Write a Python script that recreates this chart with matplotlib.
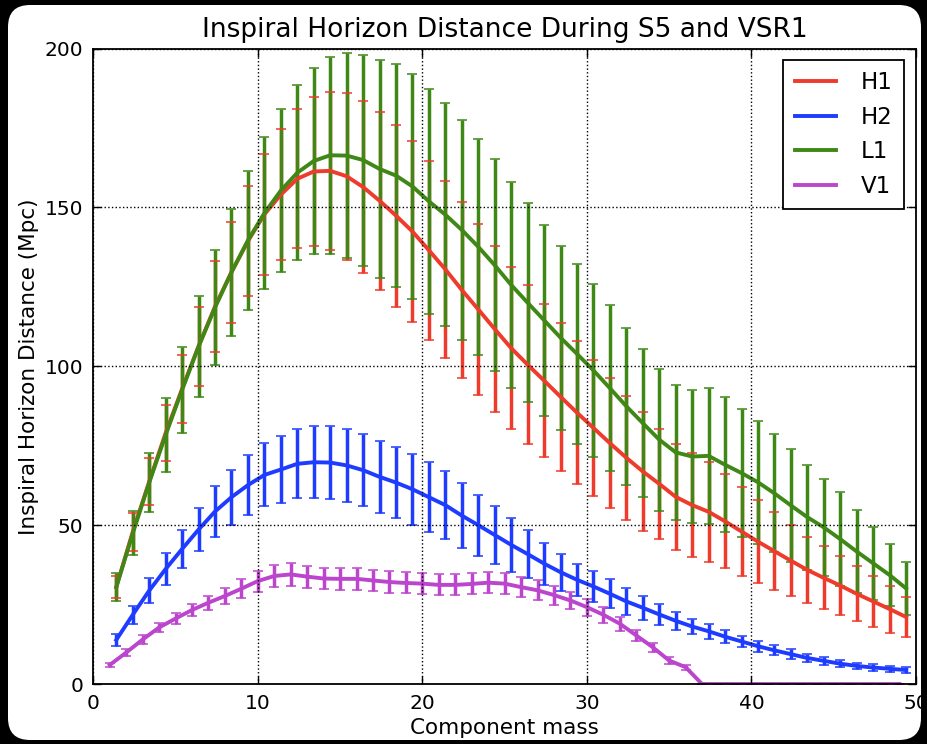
import matplotlib
matplotlib.use("Agg")
import matplotlib.pyplot as plt
from matplotlib.patches import FancyBboxPatch
from matplotlib.transforms import IdentityTransform

# component mass grid (H1, H2, L1 share it, V1 is on whole masses)
mass = [1.4, 2.4, 3.4, 4.4, 5.4, 6.4, 7.4, 8.4, 9.4, 10.4,
        11.4, 12.4, 13.4, 14.4, 15.4, 16.4, 17.4, 18.4, 19.4, 20.4,
        21.4, 22.4, 23.4, 24.4, 25.4, 26.4, 27.4, 28.4, 29.4, 30.4,
        31.4, 32.4, 33.4, 34.4, 35.4, 36.4, 37.4, 38.4, 39.4, 40.4,
        41.4, 42.4, 43.4, 44.4, 45.4, 46.4, 47.4, 48.4, 49.4]
mass_v1 = [1, 2, 3, 4, 5, 6, 7, 8, 9, 10, 11, 12, 13, 14, 15, 16, 17,
           18, 19, 20, 21, 22, 23, 24, 25, 26, 27, 28, 29, 30, 31, 32,
           33, 34, 35, 36, 37, 38, 39, 40, 41, 42, 43, 44, 45, 46, 47,
           48, 49]

h1 = [30.5, 47.9, 63.7, 79.0, 92.9, 106.3, 118.8, 129.6, 139.4, 147.8,
      154.0, 159.0, 161.3, 161.5, 159.8, 156.4, 152.1, 147.4, 142.4, 136.5,
      130.5, 124.0, 117.9, 111.7, 105.7, 100.5, 95.5, 90.4, 85.4, 80.6,
      75.8, 71.2, 66.9, 63.0, 58.9, 56.3, 54.2, 51.2, 48.0, 44.8,
      41.8, 38.8, 35.9, 33.4, 31.0, 28.4, 26.0, 23.6, 21.1]
h1_err = [3.5, 5.9, 7.5, 8.8, 10.8, 12.4, 14.3, 15.9, 17.4, 19.0,
          20.7, 21.9, 23.4, 24.8, 26.3, 27.1, 28.0, 28.6, 28.6, 28.2,
          27.9, 27.7, 26.9, 26.2, 25.4, 25.0, 24.2, 23.3, 22.5, 21.4,
          20.5, 19.6, 18.6, 17.4, 16.7, 16.4, 15.8, 14.8, 14.0, 13.0,
          12.2, 11.2, 10.3, 9.9, 9.3, 8.7, 8.0, 7.4, 6.3]

h2 = [13.9, 21.8, 29.4, 36.2, 42.5, 48.6, 54.3, 58.8, 62.6, 65.8,
      67.5, 69.3, 69.8, 69.7, 68.8, 67.3, 65.2, 63.4, 61.3, 58.8,
      56.3, 53.0, 50.0, 46.9, 43.8, 40.9, 37.9, 35.2, 32.8, 30.7,
      28.4, 26.0, 24.0, 21.9, 19.9, 18.1, 16.6, 14.9, 13.4, 11.9,
      10.6, 9.4, 8.2, 7.3, 6.4, 5.7, 5.2, 4.8, 4.4]
h2_err = [2.0, 2.8, 3.9, 5.0, 6.0, 6.8, 7.9, 8.7, 9.4, 9.9,
          10.6, 10.9, 11.3, 11.4, 11.5, 11.4, 11.4, 11.3, 11.2, 11.0,
          10.6, 10.2, 9.6, 9.0, 8.5, 7.6, 6.6, 5.8, 5.0, 4.9,
          4.5, 4.2, 3.8, 3.2, 2.8, 2.4, 2.4, 2.1, 1.8, 1.7,
          1.6, 1.5, 1.4, 1.2, 1.1, 1.0, 1.0, 0.9, 0.9]

l1 = [30.5, 47.4, 63.4, 78.4, 92.6, 106.2, 118.5, 129.6, 139.6, 148.2,
      155.3, 160.9, 164.6, 166.4, 166.3, 164.9, 162.1, 160.0, 156.6, 151.9,
      147.7, 142.9, 137.6, 131.8, 125.6, 120.0, 114.5, 109.0, 103.9, 98.7,
      93.1, 87.4, 82.1, 76.9, 72.9, 71.6, 71.8, 69.0, 66.4, 63.5,
      60.0, 56.2, 52.5, 49.3, 45.6, 41.7, 38.0, 34.3, 30.1]
l1_err = [4.5, 6.9, 9.2, 11.6, 13.6, 15.9, 18.0, 20.0, 22.0, 23.9,
          25.7, 27.6, 29.2, 31.0, 32.3, 33.2, 34.2, 35.1, 35.4, 35.4,
          35.0, 34.6, 34.0, 33.4, 32.5, 31.3, 30.1, 29.0, 28.3, 27.1,
          26.2, 24.7, 23.3, 22.3, 21.3, 20.8, 21.3, 21.3, 20.2, 19.3,
          18.6, 17.8, 16.5, 15.2, 14.7, 13.1, 11.4, 9.8, 8.4]

v1 = [6.0, 9.9, 14.0, 17.8, 20.6, 23.3, 25.6, 27.7, 30.0, 32.4,
      34.0, 34.5, 33.8, 33.2, 33.1, 33.1, 32.6, 32.1, 31.8, 31.6,
      31.2, 31.2, 31.5, 31.9, 31.6, 30.5, 29.5, 28.0, 26.3, 24.2,
      21.8, 19.0, 15.3, 11.6, 7.4, 5.3, 0, 0, 0, 0,
      0, 0, 0, 0, 0, 0, 0, 0, 0]
v1_err = [0.7, 1.0, 1.3, 1.5, 1.7, 2.0, 2.2, 2.5, 2.9, 3.3,
          3.5, 3.6, 3.5, 3.4, 3.4, 3.4, 3.4, 3.4, 3.3, 3.3,
          3.3, 3.3, 3.3, 3.3, 3.3, 3.2, 3.1, 3.0, 2.8, 2.7,
          2.5, 2.2, 1.8, 1.4, 1.0, 0.8, 0, 0, 0, 0,
          0, 0, 0, 0, 0, 0, 0, 0, 0]

series = [
    ("H1", mass, h1, h1_err, "#ee3b2b"),
    ("H2", mass, h2, h2_err, "#1e3cff"),
    ("L1", mass, l1, l1_err, "#3f8816"),
    ("V1", mass_v1, v1, v1_err, "#bb45cc"),
]

plt.rcParams['font.family'] = ['DejaVu Sans']

fig = plt.figure(figsize=(9.28, 7.44), dpi=100, facecolor='black')

# white card with rounded corners on the black screenshot background
card = FancyBboxPatch((8, 4), 921 - 8, 739 - 4,
                      boxstyle="round,pad=0,rounding_size=22",
                      transform=IdentityTransform(), facecolor='white',
                      edgecolor='none', zorder=-10)
fig.patches.append(card)

ax = fig.add_axes([0.1005, 0.0806, 0.8865, 0.8542])
ax.set_facecolor('white')

# error bars first, then the curves on top
for name, xs, ys, es, col in series:
    eb = ax.errorbar(xs, ys, yerr=es, fmt='none', ecolor=col, elinewidth=2.5,
                     capsize=3.5, capthick=1.1, zorder=2)
    for cap in eb[1]:
        cap.set_zorder(2.1)

for name, xs, ys, es, col in series:
    ax.plot(xs, ys, color=col, lw=2.8, label=name, zorder=2.2,
            solid_joinstyle='round')

ax.set_xlim(0, 50)
ax.set_ylim(0, 200)
ax.set_xticks([0, 10, 20, 30, 40, 50])
ax.set_yticks([0, 50, 100, 150, 200])
ax.set_axisbelow(False)
ax.grid(True, color='black', linestyle=':', linewidth=1.0)
ax.tick_params(direction='in', top=True, right=True, length=6, width=1,
               labelsize=14.5, pad=7)
for sp in ax.spines.values():
    sp.set_linewidth(1.3)

ax.set_title('Inspiral Horizon Distance During S5 and VSR1', fontsize=19, pad=8)
ax.set_xlabel('Component mass', fontsize=15.5)
ax.set_ylabel('Inspiral Horizon Distance (Mpc)', fontsize=15.5)

leg = ax.legend(loc='upper right', fontsize=16.5, fancybox=False,
                edgecolor='black', framealpha=1, handlelength=1.8,
                handletextpad=1.1, borderpad=0.5, labelspacing=0.5)
leg.get_frame().set_linewidth(1.3)

fig.savefig('out.png', dpi=100, facecolor='black')
